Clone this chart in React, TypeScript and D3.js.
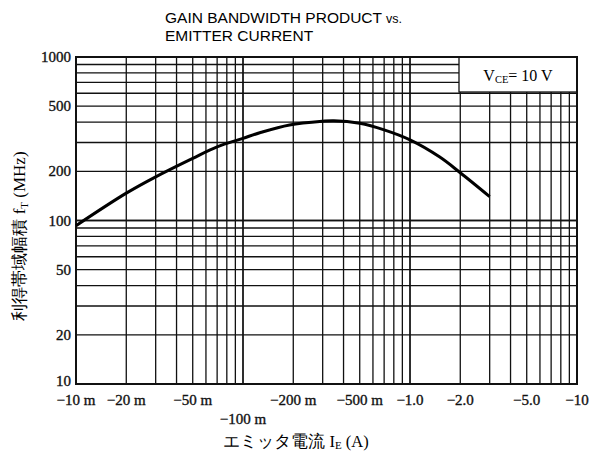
import React from 'react';
import * as d3 from 'd3';

// emitter current (A, magnitude) vs gain bandwidth product (MHz)
const currentA = [0.01, 0.02, 0.03, 0.05, 0.07, 0.1, 0.126, 0.19, 0.3, 0.35, 0.5, 0.7, 1.0, 1.5, 2.0, 3.0];
const ftMHz = [93, 147, 185, 240, 282, 318, 344, 384, 405, 408, 393, 358, 311, 245, 196, 140];

const xTickValues = [0.01, 0.02, 0.05, 0.1, 0.2, 0.5, 1, 2, 5, 10];
const xTickLabels = ['−10 m', '−20 m', '−50 m', '−100 m', '−200 m', '−500 m', '−1.0', '−2.0', '−5.0', '−10'];
const yTickValues = [10, 20, 50, 100, 200, 500, 1000];
const yTickLabels = ['10', '20', '50', '100', '200', '500', '1000'];

const W = 590;
const H = 457;
const margin = { left: 76, right: 13, top: 57, bottom: 73 };

const App = () => {
  const x = d3.scaleLog().domain([0.01, 10]).range([margin.left, W - margin.right]);
  const y = d3.scaleLog().domain([10, 1000]).range([H - margin.bottom, margin.top]);

  // every 1..9 line within each decade
  const xGrid = [];
  for (const d of [0.01, 0.1, 1]) for (let k = 1; k <= 10; k++) xGrid.push(d * k);
  const yGrid = [];
  for (const d of [10, 100]) for (let k = 1; k <= 10; k++) yGrid.push(d * k);

  const line = d3.line()
    .x((d) => x(d[0]))
    .y((d) => y(d[1]))
    .curve(d3.curveCatmullRom.alpha(0.5));
  const path = line(currentA.map((c, i) => [c, ftMHz[i]]));

  const [x0, x1] = x.range();
  const [y0, y1] = y.range();
  const serif = '"Liberation Serif", "DejaVu Serif", serif';

  return (
    <svg width={W} height={H} style={{ position: 'absolute', left: 0, top: 0, background: '#fff' }}>
      <text x={165} y={23} fontFamily='"Liberation Sans", Arial, sans-serif' fontSize={15.5}>
        GAIN BANDWIDTH PRODUCT <tspan fontSize={12.5}>vs.</tspan>
      </text>
      <text x={165} y={41} fontFamily='"Liberation Sans", Arial, sans-serif' fontSize={15.5}>
        EMITTER CURRENT
      </text>

      <g stroke="#111" strokeWidth={1.3}>
        {yGrid.map((v, i) => (
          <line key={'y' + i} x1={x0} x2={x1} y1={y(v)} y2={y(v)} />
        ))}
        {xGrid.map((v, i) => (
          <line key={'x' + i} x1={x(v)} x2={x(v)} y1={y0} y2={y1} />
        ))}
      </g>

      {/* legend box */}
      <rect x={459} y={y1} width={x1 - 459} height={35} fill="#fff" stroke="#111" strokeWidth={1.3} />
      <text x={518} y={81} textAnchor="middle" fontFamily={serif} fontSize={16}>
        V<tspan fontSize={10.5} dy={2}>CE</tspan><tspan dy={-2}>= 10  V</tspan>
      </text>

      <rect x={x0} y={y1} width={x1 - x0} height={y0 - y1} fill="none" stroke="#111" strokeWidth={2} />

      <path d={path} fill="none" stroke="#000" strokeWidth={3} />

      <g fontFamily={serif} fontSize={15} fill="#111" stroke="#111" strokeWidth={0.35}>
        {yTickValues.map((v, i) => (
          <text key={v} x={x0 - 5} y={y(v) + (v === 10 ? 2 : 5)} textAnchor="end">{yTickLabels[i]}</text>
        ))}
        {xTickValues.map((v, i) => (
          <text key={v} x={x(v)} y={405} textAnchor="middle" dy={v === 0.1 ? 19 : 0}>{xTickLabels[i]}</text>
        ))}
      </g>

      <text x={296} y={447} textAnchor="middle" fontFamily={serif} fontSize={16.5}>
        エミッタ電流  I<tspan fontSize={11} dy={2}>E</tspan><tspan dy={-2}> (A)</tspan>
      </text>

      <text
        transform="translate(25,236) rotate(-90)"
        textAnchor="middle"
        fontFamily={serif}
        fontSize={17}
      >
        利得帯域幅積  f<tspan fontSize={11} dy={3}>T</tspan><tspan dy={-3}> (MHz)</tspan>
      </text>
    </svg>
  );
};

export default App;
